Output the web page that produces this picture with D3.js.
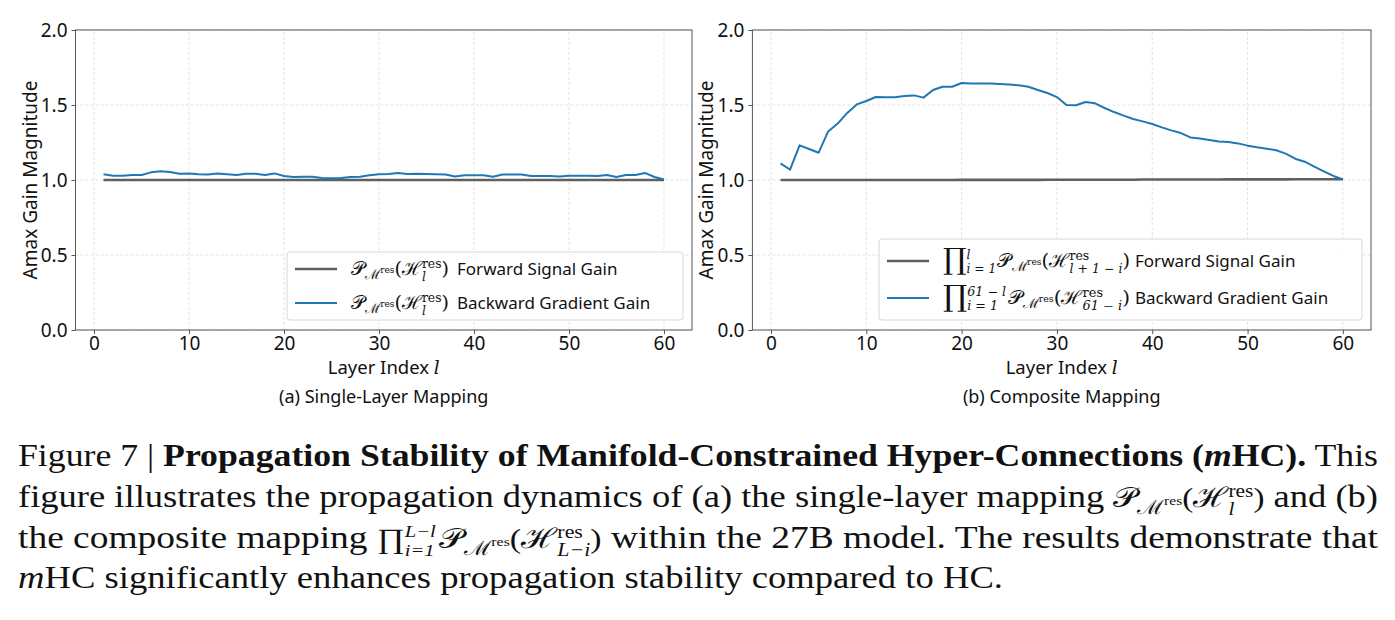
<!DOCTYPE html>
<html>
<head>
<meta charset="utf-8">
<script src="https://cdn.jsdelivr.net/npm/d3@7"></script>
<style>
  body { margin: 0; background: #fff; }
  svg { display: block; }
</style>
</head>
<body>
<div id="chart"></div>
<script>
// ---- data ----
const layers = d3.range(1, 61);
const xTicks = [0, 10, 20, 30, 40, 50, 60];
const yTicks = [0.0, 0.5, 1.0, 1.5, 2.0];

const singleForward = [
  1.000, 1.000, 1.000, 1.000, 1.000, 1.000, 1.000, 1.000, 1.000, 1.000,
  1.000, 1.000, 1.000, 1.000, 1.000, 1.000, 1.000, 1.000, 1.000, 1.000,
  1.000, 1.000, 1.000, 1.000, 1.000, 1.000, 1.000, 1.000, 1.000, 1.000,
  1.000, 1.000, 1.000, 1.000, 1.000, 1.000, 1.000, 1.000, 1.000, 1.000,
  1.000, 1.000, 1.000, 1.000, 1.000, 1.000, 1.000, 1.000, 1.000, 1.000,
  1.000, 1.000, 1.000, 1.000, 1.000, 1.000, 1.000, 1.000, 1.000, 1.000
];
const singleBackward = [
  1.038, 1.029, 1.029, 1.033, 1.033, 1.051, 1.058, 1.053, 1.042, 1.044,
  1.038, 1.036, 1.044, 1.038, 1.033, 1.042, 1.042, 1.033, 1.044, 1.027,
  1.020, 1.022, 1.022, 1.013, 1.011, 1.013, 1.020, 1.022, 1.031, 1.038,
  1.040, 1.047, 1.040, 1.042, 1.040, 1.038, 1.036, 1.024, 1.031, 1.031,
  1.031, 1.022, 1.036, 1.036, 1.036, 1.027, 1.027, 1.027, 1.024, 1.029,
  1.029, 1.029, 1.027, 1.033, 1.020, 1.033, 1.033, 1.047, 1.020, 1.004
];
const compositeForward = [
  1.000, 1.000, 1.000, 1.000, 1.000, 1.000, 1.000, 1.000, 1.000, 1.000,
  1.000, 1.000, 1.000, 1.000, 1.000, 1.000, 1.000, 1.000, 1.000, 1.001,
  1.001, 1.001, 1.001, 1.001, 1.001, 1.001, 1.001, 1.001, 1.002, 1.002,
  1.002, 1.002, 1.002, 1.002, 1.002, 1.002, 1.002, 1.002, 1.003, 1.003,
  1.003, 1.003, 1.003, 1.003, 1.003, 1.003, 1.003, 1.004, 1.004, 1.004,
  1.004, 1.004, 1.004, 1.004, 1.005, 1.005, 1.005, 1.005, 1.005, 1.005
];
const compositeBackward = [
  1.111, 1.069, 1.231, 1.207, 1.182, 1.324, 1.376, 1.447, 1.504, 1.527,
  1.553, 1.551, 1.551, 1.560, 1.564, 1.549, 1.600, 1.622, 1.622, 1.647,
  1.644, 1.644, 1.644, 1.640, 1.636, 1.631, 1.622, 1.600, 1.580, 1.553,
  1.500, 1.498, 1.520, 1.511, 1.480, 1.453, 1.429, 1.407, 1.391, 1.373,
  1.351, 1.331, 1.313, 1.284, 1.276, 1.267, 1.256, 1.253, 1.244, 1.229,
  1.218, 1.209, 1.198, 1.176, 1.142, 1.122, 1.089, 1.058, 1.027, 1.004
];

const W = 1395, H = 620;
const sans = "'Noto Sans', 'Open Sans', sans-serif";
const mathFont = "'DejaVu Serif', serif";
const capFont = "'Liberation Serif', 'DejaVu Serif', serif";

const svg = d3.select('#chart').append('svg')
  .attr('width', W).attr('height', H)
  .attr('font-family', sans);

// rich text helper: tokens with shift (px up), size, font, stacking
function rich(textSel, tokens, baseSize) {
  let cur = 0, lastW = 0;
  tokens.forEach(tk => {
    const shift = tk.shift || 0;
    const ts = textSel.append('tspan')
      .text(tk.t)
      .attr('font-size', tk.size || baseSize)
      .attr('dy', cur - shift);
    cur = shift;
    if (tk.f) ts.attr('font-family', tk.f);
    if (tk.i) ts.attr('font-style', 'italic');
    if (tk.b) ts.attr('font-weight', 'bold');
    if (tk.stack) ts.attr('dx', -lastW);
    lastW = ts.node().getComputedTextLength();
  });
  return textSel;
}

// P_{M^res}( H ... ) token builder
function pmTokens(s, hSub, hSubFirst) {
  const k = s / 17;
  const t = [
    { t: '𝒫', f: mathFont, size: 17 * k },
    { t: 'ℳ', f: mathFont, size: 12 * k, shift: -4 * k },
    { t: 'res', f: mathFont, size: 8 * k, shift: 1.5 * k },
    { t: '(', f: mathFont, size: 17 * k, shift: 0 },
    { t: 'ℋ', f: mathFont, size: 17 * k }
  ];
  const sub = { t: hSub, f: mathFont, i: true, size: 11 * k, shift: -5 * k };
  const sup = { t: 'res', f: mathFont, size: 11 * k, shift: 6 * k };
  if (hSubFirst) { t.push(sub); t.push(Object.assign({}, sup, { stack: true })); }
  else { t.push(sup); t.push(Object.assign({}, sub, { stack: true })); }
  t.push({ t: ')', f: mathFont, size: 17 * k, shift: 0 });
  return t;
}

function drawPanel(cfg) {
  const x = d3.scaleLinear().domain([-1.95, 62.95]).range([cfg.x0, cfg.x1]);
  const y = d3.scaleLinear().domain([0, 2]).range([330, 30]);
  const g = svg.append('g');

  // grid
  g.append('g').selectAll('line').data(xTicks).join('line')
    .attr('x1', d => x(d)).attr('x2', d => x(d))
    .attr('y1', y(0)).attr('y2', y(2))
    .attr('stroke', '#dcdcdc').attr('stroke-width', 0.8)
    .attr('stroke-dasharray', '3,2');
  g.append('g').selectAll('line').data(yTicks).join('line')
    .attr('x1', cfg.x0).attr('x2', cfg.x1)
    .attr('y1', d => y(d)).attr('y2', d => y(d))
    .attr('stroke', '#dcdcdc').attr('stroke-width', 0.8)
    .attr('stroke-dasharray', '3,2');

  // lines
  const line = d3.line().x((d, i) => x(layers[i])).y(d => y(d));
  g.append('path').datum(cfg.fwd).attr('d', line)
    .attr('fill', 'none').attr('stroke', '#606060').attr('stroke-width', 2.6);
  g.append('path').datum(cfg.bwd).attr('d', line)
    .attr('fill', 'none').attr('stroke', '#1f77b4').attr('stroke-width', 2)
    .attr('stroke-linejoin', 'round');

  // frame
  g.append('rect')
    .attr('x', cfg.x0).attr('y', 30)
    .attr('width', cfg.x1 - cfg.x0).attr('height', 300)
    .attr('fill', 'none').attr('stroke', '#555').attr('stroke-width', 1);

  // axes
  const ax = g.append('g').attr('transform', `translate(0,330)`)
    .call(d3.axisBottom(x).tickValues(xTicks).tickSize(4).tickPadding(3));
  const ay = g.append('g').attr('transform', `translate(${cfg.x0},0)`)
    .call(d3.axisLeft(y).tickValues(yTicks).tickFormat(d3.format('.1f')).tickSize(4).tickPadding(4));
  [ax, ay].forEach(a => {
    a.select('.domain').remove();
    a.selectAll('.tick line').attr('stroke', '#555');
    a.selectAll('.tick text').attr('font-size', 19).attr('fill', '#111')
      .attr('font-family', sans);
  });

  // y label
  g.append('text')
    .attr('transform', `translate(${cfg.x0 - 39},180) rotate(-90)`)
    .attr('text-anchor', 'middle').attr('font-size', 19).attr('fill', '#111')
    .text('Amax Gain Magnitude');

  // x label
  const xl = g.append('text')
    .attr('x', (cfg.x0 + cfg.x1) / 2).attr('y', 374)
    .attr('text-anchor', 'middle').attr('font-size', 18.5).attr('fill', '#111');
  xl.append('tspan').text('Layer Index ');
  xl.append('tspan').text('l').attr('font-family', mathFont).attr('font-style', 'italic');

  // subtitle
  g.append('text')
    .attr('x', (cfg.x0 + cfg.x1) / 2).attr('y', 403)
    .attr('text-anchor', 'middle').attr('font-size', 18).attr('fill', '#111')
    .text(cfg.subtitle);

  // legend
  const L = cfg.legend;
  g.append('rect')
    .attr('x', L.x).attr('y', L.y).attr('width', L.w).attr('height', L.h)
    .attr('rx', 3).attr('fill', '#fff').attr('fill-opacity', 0.85)
    .attr('stroke', '#d8d8d8');
  L.rows.forEach((r, i) => {
    g.append('line')
      .attr('x1', L.x + 8).attr('x2', L.x + 50)
      .attr('y1', r.y).attr('y2', r.y)
      .attr('stroke', i === 0 ? '#606060' : '#1f77b4')
      .attr('stroke-width', i === 0 ? 2.4 : 2);
    const t = g.append('text').attr('x', L.x + 64).attr('y', r.y + 6)
      .attr('fill', '#111');
    rich(t, r.math, 17);
    t.attr('textLength', r.mathLen).attr('lengthAdjust', 'spacingAndGlyphs');
    g.append('text').attr('x', r.textX).attr('y', r.y + 6)
      .attr('font-size', 17).attr('fill', '#111').text(r.label);
  });
}

drawPanel({
  x0: 75.5, x1: 692, fwd: singleForward, bwd: singleBackward,
  subtitle: '(a) Single-Layer Mapping',
  legend: {
    x: 287, y: 252, w: 396, h: 68,
    rows: [
      { y: 269, math: pmTokens(19, 'l', true), mathLen: 98, textX: 457, label: 'Forward Signal Gain' },
      { y: 303, math: pmTokens(19, 'l', true), mathLen: 98, textX: 457, label: 'Backward Gradient Gain' }
    ]
  }
});

drawPanel({
  x0: 752.4, x1: 1371, fwd: compositeForward, bwd: compositeBackward,
  subtitle: '(b) Composite Mapping',
  legend: {
    x: 879, y: 239, w: 483, h: 81,
    rows: [
      { y: 261, textX: 1135, label: 'Forward Signal Gain', mathLen: 187,
        math: [{ t: '∏', f: mathFont, size: 29, shift: -2 },
               { t: 'l', f: mathFont, i: true, size: 12, shift: 8 },
               { t: 'i = 1', f: mathFont, i: true, size: 12, shift: -6, stack: true },
               { t: ' ', size: 4, shift: 0 }]
               .concat(pmTokens(19, 'l + 1 − i', false)) },
      { y: 298, textX: 1135, label: 'Backward Gradient Gain', mathLen: 187,
        math: [{ t: '∏', f: mathFont, size: 29, shift: -2 },
               { t: 'i = 1', f: mathFont, i: true, size: 12, shift: -6 },
               { t: '61 − l', f: mathFont, i: true, size: 12, shift: 8, stack: true },
               { t: '  ', size: 8, shift: 0 }]
               .concat(pmTokens(19, '61 − i', false)) }
    ]
  }
});

// ---- caption ----
const capSize = 31;
const capLines = [
  { y: 466, len: 1360, tokens: [
    { t: 'Figure 7 | ' },
    { t: 'Propagation Stability of Manifold-Constrained Hyper-Connections (', b: true },
    { t: 'm', b: true, i: true },
    { t: 'HC).', b: true },
    { t: ' This' }
  ]},
  { y: 507, len: 1360, tokens: [
    { t: 'figure illustrates the propagation dynamics of (a) the single-layer mapping ' }
  ].concat(pmTokens(28, 'l', true).map(d => Object.assign({}, d, { f: capFont })))
   .concat([{ t: ' and (b)', shift: 0 }]) },
  { y: 548, len: 1360, tokens: [
    { t: 'the composite mapping ' },
    { t: '∏', size: 28 },
    { t: 'i=1', i: true, size: 17, shift: -8 },
    { t: 'L−l', i: true, size: 17, shift: 11, stack: true },
    { t: ' ', shift: 0, size: 12 }
  ].concat(pmTokens(28, 'L−i', false).map(d => Object.assign({}, d, { f: capFont })))
   .concat([{ t: ' within the 27B model. The results demonstrate that', shift: 0 }]) },
  { y: 588, len: 985, tokens: [
    { t: 'm', i: true },
    { t: 'HC significantly enhances propagation stability compared to HC.' }
  ]}
];
capLines.forEach(l => {
  const t = svg.append('text')
    .attr('x', 18).attr('y', l.y)
    .attr('font-family', capFont).attr('fill', '#111');
  rich(t, l.tokens, capSize);
  t.attr('textLength', l.len).attr('lengthAdjust', 'spacingAndGlyphs');
});
</script>
</body>
</html>
